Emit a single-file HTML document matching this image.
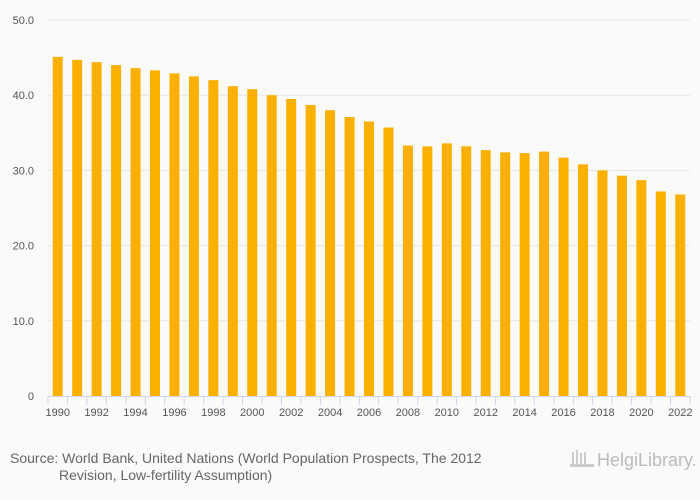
<!DOCTYPE html>
<html><head><meta charset="utf-8"><style>
body{margin:0;background:#fafafa;font-family:"Liberation Sans",sans-serif;}
svg{display:block}
</style></head><body>
<svg width="700" height="500" id="c">
<rect width="700" height="500" fill="#fafafa"/>
<g id="grid"></g><g id="bars"></g><g id="axis"></g>
<text x="10" y="463" font-size="14" fill="#666">Source: World Bank, United Nations (World Population Prospects, The 2012</text>
<text x="59" y="480" font-size="14" fill="#666">Revision, Low-fertility Assumption)</text>
<text x="597" y="466" font-size="18" fill="#bbb">HelgiLibrary.</text>
<g fill="#ccc"><rect x="572" y="452" width="2" height="14"/><rect x="576" y="450" width="2" height="16"/><rect x="580" y="453" width="2" height="13"/><rect x="584" y="452" width="2" height="14"/><rect x="570" y="464" width="24" height="3"/></g>
</svg>
<script>
const years=[];for(let y=1990;y<=2022;y++)years.push(y);
const values=[45.1,44.7,44.4,44.0,43.6,43.3,42.9,42.5,42.0,41.2,40.8,40.0,39.5,38.7,38.0,37.1,36.5,35.7,33.3,33.2,33.6,33.2,32.7,32.4,32.3,32.5,31.7,30.8,30.0,29.3,28.7,27.2,26.8];
const yTicks=[0,10,20,30,40,50];
const yTickLabels=["0","10.0","20.0","30.0","40.0","50.0"];
const NS="http://www.w3.org/2000/svg";
const x0=48,x1=690,y0=396,yTop=20;
const step=(x1-x0)/years.length;
const ys=v=>y0-(v/50)*(y0-yTop);
const xs=i=>x0+i*step;
function mk(t,a,p){const e=document.createElementNS(NS,t);for(const k in a)e.setAttribute(k,a[k]);p.appendChild(e);return e;}
const g=document.getElementById('grid'),b=document.getElementById('bars'),ax=document.getElementById('axis');
yTicks.forEach((t,i)=>{
 if(t>0){const l=mk('line',{x1:x0,x2:x1,y1:ys(t),y2:ys(t),stroke:'#e6e6e6','stroke-width':1},g);
 
 }
 const tx=mk('text',{x:34,y:ys(t)+4,'font-size':11,fill:'#555','text-anchor':'end'},ax);tx.textContent=yTickLabels[i];
 
 
});
values.forEach((v,i)=>{
 const r=mk('rect',{x:xs(i)+step/2-5,y:ys(v),width:10,height:y0-ys(v),fill:'#fbb000'},b);
 
 
});
const al=mk('line',{x1:x0,x2:x1,y1:y0+0.5,y2:y0+0.5,stroke:'#ccd6eb'},ax);


for(let i=0;i<=years.length;i++){const tk=mk('line',{x1:xs(i),x2:xs(i),y1:y0,y2:y0+9,stroke:'#ccd6eb'},ax);
 
 }
years.forEach((y,i)=>{if(i%2)return;
 const tx=mk('text',{x:xs(i)+step/2,y:y0+20,'font-size':11,fill:'#555','text-anchor':'middle'},ax);tx.textContent=y;
 
 
});
</script>
</body></html>
